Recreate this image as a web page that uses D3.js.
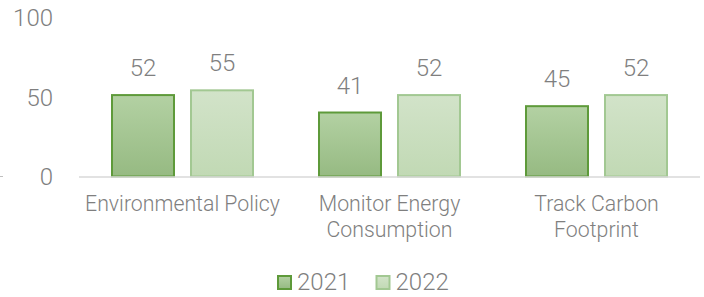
<!DOCTYPE html>
<html>
<head>
<meta charset="utf-8">
<script src="https://cdn.jsdelivr.net/npm/d3@7"></script>
<style>
  body { margin: 0; background: #fff; }
  text { font-family: Roboto, sans-serif; font-weight: 300; fill: #7f7f7f; }
</style>
</head>
<body>
<div id="app"></div>
<script>
const categories = [["Environmental Policy"], ["Monitor Energy", "Consumption"], ["Track Carbon", "Footprint"]];
const years = ["2021", "2022"];
const values2021 = [52, 41, 45];
const values2022 = [55, 52, 52];
const yTicks = [0, 50, 100];

const w = 704;
const h = 297;

const svg = d3.select('#app')
  .append('svg')
  .attr('width', w)
  .attr('height', h);

const defs = svg.append('defs');
const g1 = defs.append('linearGradient').attr('id', 'g2021').attr('x1', 0).attr('y1', 0).attr('x2', 0).attr('y2', 1);
g1.append('stop').attr('offset', '0%').attr('stop-color', '#b3d1a3');
g1.append('stop').attr('offset', '100%').attr('stop-color', '#96ba82');
const g2 = defs.append('linearGradient').attr('id', 'g2022').attr('x1', 0).attr('y1', 0).attr('x2', 0).attr('y2', 1);
g2.append('stop').attr('offset', '0%').attr('stop-color', '#d2e3c9');
g2.append('stop').attr('offset', '100%').attr('stop-color', '#c1d9b4');

const fills = ['url(#g2021)', 'url(#g2022)'];
const strokes = ['#5e9a3a', '#a2c892'];

const xScale = d3.scaleBand()
  .domain(d3.range(categories.length))
  .range([79, 700])
  .paddingInner(0)
  .paddingOuter(0);

const inner = d3.scaleBand()
  .domain(years)
  .range([32, xScale.bandwidth() - 32])
  .paddingInner(0.19);

const yScale = d3.scaleLinear()
  .domain([0, 100])
  .range([176.5, 18]);

// y axis labels
svg.append('g')
  .selectAll('text')
  .data(yTicks)
  .enter()
  .append('text')
  .attr('x', 53)
  .attr('y', (d) => yScale(d))
  .attr('dy', '0.35em')
  .attr('text-anchor', 'end')
  .style('font-size', '24px')
  .text((d) => d);

// little tick stub at left edge
svg.append('line')
  .attr('x1', 0).attr('x2', 3)
  .attr('y1', yScale(0)).attr('y2', yScale(0))
  .attr('stroke', '#bfbfbf');

const series = [values2021, values2022];

series.forEach((vals, si) => {
  const grp = svg.append('g');
  grp.selectAll('rect')
    .data(vals)
    .enter()
    .append('rect')
    .attr('x', (d, i) => xScale(i) + inner(years[si]) + 1)
    .attr('y', (d) => yScale(d) + 1)
    .attr('width', inner.bandwidth() - 2)
    .attr('height', (d) => yScale(0) - yScale(d) - 1)
    .attr('fill', fills[si])
    .attr('stroke', strokes[si])
    .attr('stroke-width', 2);

  grp.selectAll('text')
    .data(vals)
    .enter()
    .append('text')
    .attr('x', (d, i) => xScale(i) + inner(years[si]) + inner.bandwidth() / 2)
    .attr('y', (d) => yScale(d) - 18)
    .attr('text-anchor', 'middle')
    .style('font-size', '24px')
    .text((d) => d);
});

// x axis line
svg.append('line')
  .attr('x1', 79).attr('x2', 700)
  .attr('y1', yScale(0) + 0.5).attr('y2', yScale(0) + 0.5)
  .attr('stroke', '#d9d9d9')
  .attr('stroke-width', 1.5);

// category labels
categories.forEach((lines, i) => {
  const t = svg.append('text')
    .attr('x', xScale(i) + xScale.bandwidth() / 2)
    .attr('y', 211)
    .attr('text-anchor', 'middle')
    .style('font-size', '21.3px');
  lines.forEach((l, j) => {
    t.append('tspan')
      .attr('x', xScale(i) + xScale.bandwidth() / 2)
      .attr('dy', j === 0 ? 0 : 26)
      .text(l);
  });
});

// legend
const legendX = [277, 375.5];
years.forEach((yr, i) => {
  svg.append('rect')
    .attr('x', legendX[i] + 1)
    .attr('y', 276)
    .attr('width', 13)
    .attr('height', 13)
    .attr('fill', fills[i])
    .attr('stroke', strokes[i])
    .attr('stroke-width', 2);
  svg.append('text')
    .attr('x', legendX[i] + 20)
    .attr('y', 289.5)
    .style('font-size', '24px')
    .text(yr);
});
</script>
</body>
</html>
